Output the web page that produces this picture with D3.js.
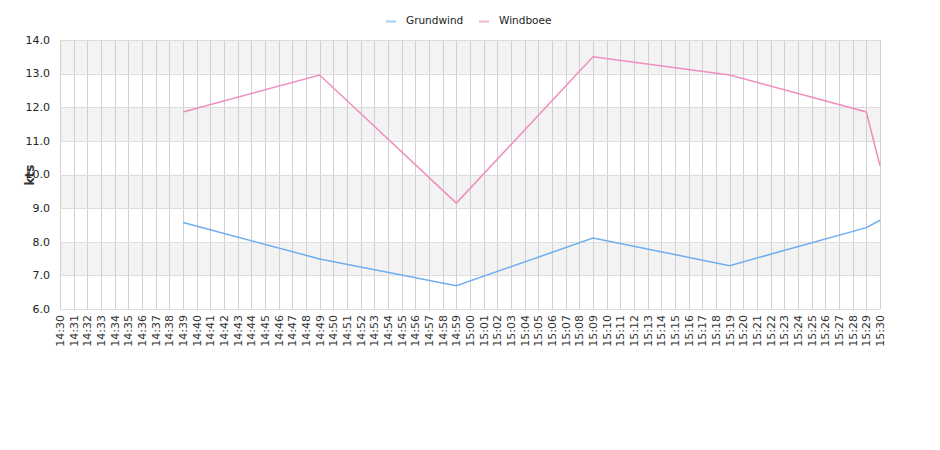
<!DOCTYPE html>
<html><head><meta charset="utf-8">
<script src="https://cdn.jsdelivr.net/npm/d3@7"></script>
<style>body{margin:0;background:#fff;font-family:"DejaVu Sans",sans-serif;}</style>
</head><body>
<svg id="c" width="940" height="450"></svg>
<script>
const startMin = 14*60+30, endMin = 15*60+30;
const times = ["14:39","14:49","14:59","15:09","15:19","15:29","15:30"];
const grundwind = [8.57, 7.49, 6.69, 8.11, 7.29, 8.42, 8.64];
const windboee = [11.86, 12.96, 9.15, 13.5, 12.96, 11.86, 10.26];
const yTicks = [6,7,8,9,10,11,12,13,14];
const seriesNames = ["Grundwind","Windboee"];
const colors = ["#6eaef0","#f08dc0"];
const legendColors = ["#a6cff5","#f5b3d6"];

const toMin = s => { const [h,m]=s.split(":").map(Number); return h*60+m; };
const fmt = m => Math.floor(m/60)+":"+String(m%60).padStart(2,"0");
const xLabels = d3.range(startMin, endMin+1).map(fmt);

const svg = d3.select("#c");
const L=60,R=880,T=40,B=309;
const x = d3.scaleLinear().domain([startMin,endMin]).range([L,R]);
const y = d3.scaleLinear().domain([6,14]).range([B,T]);

// bands
const g = svg.append("g");
for (let v=6; v<14; v++) {
  g.append("rect").attr("x",L).attr("width",R-L)
    .attr("y",y(v+1)).attr("height",y(v)-y(v+1))
    .attr("fill",(v%2===1)?"#f3f3f3":"#ffffff");
}
// vertical grid
g.selectAll("line.v").data(d3.range(startMin,endMin+1)).join("line")
  .attr("x1",d=>Math.round(x(d))+0.5).attr("x2",d=>Math.round(x(d))+0.5)
  .attr("y1",T).attr("y2",B).attr("stroke","#d0d0d0").attr("stroke-width",1);
// horizontal grid
g.selectAll("line.h").data(yTicks).join("line")
  .attr("x1",L).attr("x2",R).attr("y1",d=>Math.round(y(d))+0.5).attr("y2",d=>Math.round(y(d))+0.5)
  .attr("stroke","#dddddd").attr("stroke-width",1);

// y tick labels
svg.append("g").selectAll("text").data(yTicks).join("text")
  .attr("x",L-10).attr("y",d=>y(d)).attr("dy","0.35em")
  .attr("text-anchor","end").attr("font-size",11).attr("fill","#222")
  .text(d=>d.toFixed(1));

// x tick labels
svg.append("g").selectAll("text").data(d3.range(startMin,endMin+1)).join("text")
  .attr("transform",d=>`translate(${x(d)+4},${B+6}) rotate(-90)`)
  .attr("text-anchor","end").attr("font-size",11).attr("fill","#333")
  .text(d=>fmt(d));

// y label
svg.append("text").attr("transform",`translate(34,175) rotate(-90)`)
  .attr("text-anchor","middle").attr("font-size",12).attr("font-weight","bold").attr("fill","#333")
  .text("kts");

// lines
const line = d3.line().x(d=>x(toMin(d[0]))).y(d=>y(d[1]));
[grundwind, windboee].forEach((vals,i)=>{
  svg.append("path").datum(times.map((t,j)=>[t,vals[j]]))
    .attr("d",line).attr("fill","none").attr("stroke",colors[i]).attr("stroke-width",1.5);
});

// legend
const leg = svg.append("g");
const legX = [386,479];
seriesNames.forEach((n,i)=>{
  leg.append("line").attr("x1",legX[i]).attr("x2",legX[i]+10).attr("y1",21.5).attr("y2",21.5)
    .attr("stroke",legendColors[i]).attr("stroke-width",2);
  leg.append("text").attr("x",legX[i]+20).attr("y",24).attr("font-size",10.5).attr("fill","#222").text(n);
});
</script>
</body></html>
